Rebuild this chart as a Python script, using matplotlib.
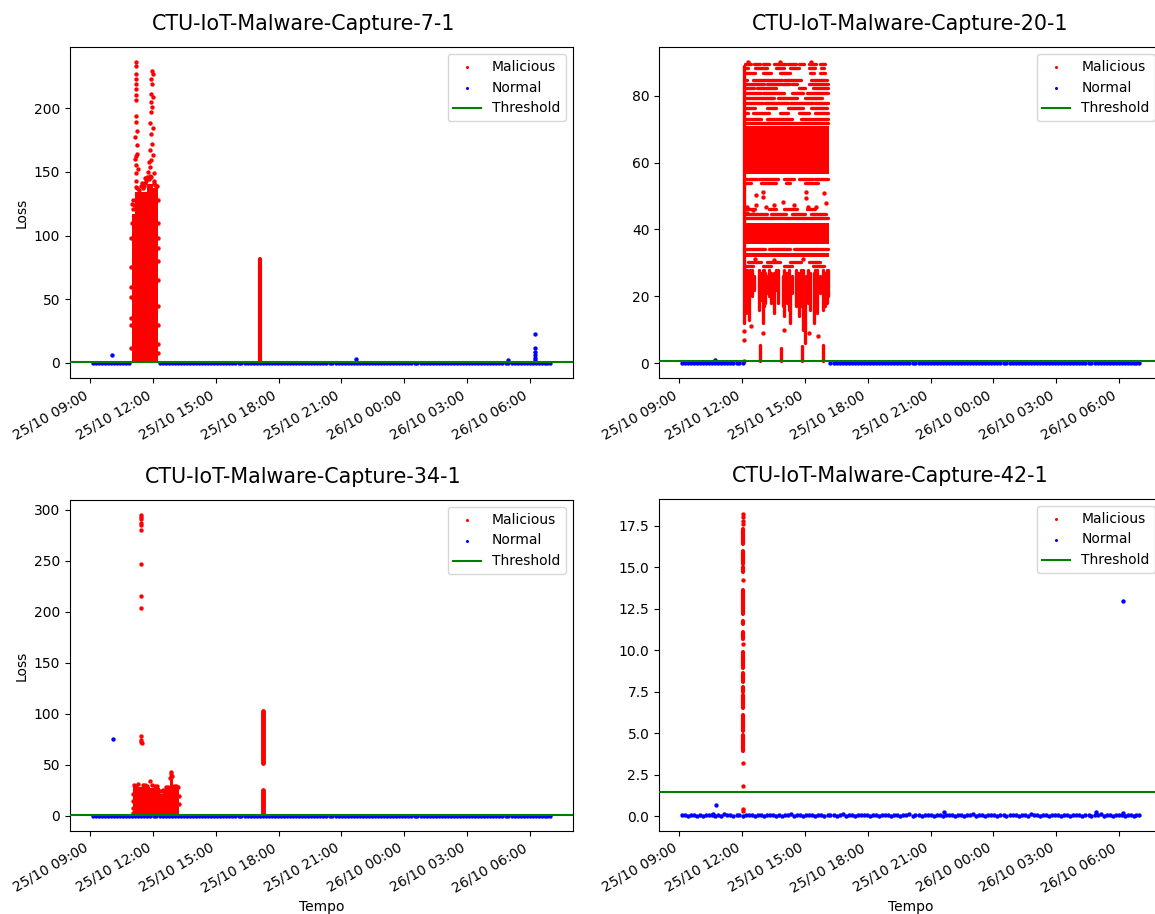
import numpy as np
import matplotlib
matplotlib.use("Agg")
import matplotlib.pyplot as plt
import matplotlib.dates as mdates

# time is given in hours from 25/10 00:00 (values > 24 are on 26/10)

# shared stream of normal traffic (blue band near 0)
base_t = [9.12, 9.26, 9.41, 9.56, 9.70, 9.84, 9.99, 10.13, 10.27, 10.42,
          10.57, 10.71, 10.86, 11.00, 11.14, 11.29, 11.44, 11.58, 11.73, 11.87,
          12.02, 12.16, 12.31, 12.45, 12.60, 12.74, 12.88, 13.03, 13.18, 13.32,
          13.47, 13.61, 13.76, 13.90, 14.05, 14.19, 14.34, 14.49, 14.63, 14.77,
          14.92, 15.06, 15.21, 15.35, 15.50, 15.64, 15.79, 15.93, 16.08, 16.22,
          16.37, 16.51, 16.66, 16.80, 16.95, 17.09, 17.24, 17.38, 17.53, 17.67,
          17.82, 17.96, 18.11, 18.25, 18.40, 18.54, 18.69, 18.83, 18.98, 19.12,
          19.27, 19.41, 19.56, 19.70, 19.85, 19.99, 20.14, 20.28, 20.43, 20.57,
          20.72, 20.86, 21.01, 21.15, 21.30, 21.44, 21.59, 21.73, 21.88, 22.02,
          22.17, 22.31, 22.46, 22.60, 22.75, 22.89, 23.04, 23.18, 23.33, 23.47,
          23.62, 23.76, 23.91, 24.05, 24.20, 24.34, 24.49, 24.63, 24.78, 24.92,
          25.07, 25.21, 25.36, 25.50, 25.65, 25.79, 25.94, 26.08, 26.23, 26.37,
          26.52, 26.66, 26.81, 26.95, 27.10, 27.24, 27.39, 27.53, 27.68, 27.82,
          27.97, 28.11, 28.26, 28.40, 28.55, 28.69, 28.84, 28.98, 29.13, 29.27,
          29.42, 29.56, 29.71, 29.85, 30.00, 30.14, 30.29, 30.43, 30.58, 30.72,
          30.84, 30.97]
base_loss = [0.04, 0.07, 0.02, 0.05, 0.09, 0.03, 0.06, 0.01, 0.08, 0.04,
             0.05, 0.02, 0.07, 0.03, 0.10, 0.04, 0.06, 0.02, 0.05, 0.08,
             0.03, 0.06, 0.04, 0.09, 0.02, 0.05, 0.07, 0.03, 0.06, 0.04,
             0.08, 0.02, 0.05, 0.03, 0.07, 0.04, 0.11, 0.02, 0.06, 0.05,
             0.03, 0.07, 0.04, 0.06, 0.02, 0.08, 0.05, 0.03, 0.09, 0.04,
             0.06, 0.03, 0.05, 0.10, 0.02, 0.04, 0.07, 0.03, 0.05, 0.08,
             0.04, 0.06, 0.02, 0.05, 0.09, 0.03, 0.07, 0.04, 0.06, 0.02,
             0.05, 0.08, 0.03, 0.06, 0.04, 0.12, 0.02, 0.05, 0.07, 0.03,
             0.06, 0.04, 0.09, 0.02, 0.05, 0.07, 0.03, 0.06, 0.04, 0.08,
             0.02, 0.05, 0.07, 0.03, 0.06, 0.04, 0.10, 0.02, 0.05, 0.07,
             0.03, 0.06, 0.04, 0.08, 0.02, 0.05, 0.07, 0.03, 0.09, 0.04,
             0.06, 0.02, 0.05, 0.07, 0.03, 0.11, 0.04, 0.06, 0.02, 0.05,
             0.08, 0.03, 0.06, 0.04, 0.07, 0.02, 0.05, 0.09, 0.03, 0.06,
             0.04, 0.07, 0.02, 0.05, 0.08, 0.03, 0.06, 0.04, 0.10, 0.02,
             0.05, 0.07, 0.03, 0.06, 0.04, 0.08, 0.02, 0.05, 0.07, 0.03,
             0.06, 0.04]

# ---------------- CTU-IoT-Malware-Capture-7-1 ----------------
c7_threshold = 0.9
c7_gap = (10.97, 12.21)
c7_mal_t = [11.17, 11.17, 11.18, 11.17, 11.18, 11.17, 11.19, 11.17, 11.20, 11.16,
            11.21, 11.15, 11.22, 11.18, 11.16, 11.20, 11.17, 11.24, 11.12, 11.26,
            11.93, 11.98, 11.90, 11.96, 11.92, 11.99, 11.88, 11.95, 11.91, 11.86,
            11.97, 11.89, 11.94, 11.87, 11.98, 11.92, 11.85, 12.02, 11.80, 12.05,
            11.83, 11.76, 11.79, 11.45, 11.55, 11.62, 10.95, 10.96, 12.22, 12.23,
            12.22, 11.00, 11.05,
            10.94, 10.95, 10.94, 10.96, 10.95, 10.97, 11.02, 11.08,
            11.16, 11.25, 11.33, 11.40, 11.52, 11.60, 11.66, 11.72, 11.78, 11.85,
            11.92, 12.04, 12.10, 12.17,
            12.23, 12.24, 12.22, 12.24, 12.23, 12.24, 12.23]
c7_mal_loss = [236, 233, 227, 223, 219, 215, 210, 206, 194, 189,
               182, 177, 164, 162, 155, 149, 143, 171, 160, 152,
               229, 227, 223, 219, 211, 209, 205, 201, 197, 188,
               184, 180, 172, 167, 163, 159, 154, 149, 145, 143,
               138, 150, 158, 141, 139, 145, 60, 30, 90, 45,
               15, 125, 128,
               12, 35, 52, 75, 98, 110, 121, 124,
               138, 137, 136, 139, 137, 141, 143, 146, 144, 147,
               146, 141, 140, 139,
               128, 110, 98, 80, 65, 30, 8]
c7_dense_t0 = [10.97, 11.13, 11.69, 12.00]
c7_dense_t1 = [11.13, 11.69, 12.00, 12.21]
c7_dense_lo = [0.3, 0.3, 0.3, 0.3]
c7_dense_hi = [117, 134, 140.5, 137]
c7_col_t = [17.13]
c7_col_lo = [0.5]
c7_col_hi = [81.5]
c7_norm_t = [10.02, 21.67, 28.96, 30.23, 30.23, 30.23, 30.23, 30.23, 30.23]
c7_norm_loss = [6.6, 2.9, 2.5, 23.0, 11.8, 8.6, 6.0, 4.3, 2.7]

# ---------------- CTU-IoT-Malware-Capture-20-1 ----------------
c20_threshold = 0.5
c20_gap = (12.05, 16.20)
c20_mal_t = [12.22, 12.22, 12.50, 12.66, 12.98, 12.98, 12.66, 13.14, 13.54, 13.93,
             14.49, 15.05, 15.05, 15.13, 15.53, 15.89, 16.00, 12.10, 12.10, 12.11,
             12.40, 13.00, 14.00, 15.20, 15.60, 12.30, 13.80, 15.30, 14.90, 13.50,
             12.60]
c20_mal_loss = [46.8, 44.8, 45.8, 50.3, 51.3, 49.8, 47.3, 46.8, 47.3, 48.3,
                47.3, 51.3, 49.3, 46.8, 46.8, 50.8, 47.8, 6.8, 9.5, 0.6,
                11.0, 9.0, 10.0, 9.0, 8.0, 90.0, 90.1, 90.0, 31.0, 30.8,
                31.2]
c20_dense_t0 = [12.07, 12.07, 12.08]
c20_dense_t1 = [16.16, 16.16, 16.14]
c20_dense_lo = [56.5, 31.6, 35.5]
c20_dense_hi = [71.0, 33.0, 42.0]
c20_row_loss = [89.5] * 8 + [88.3] * 6 + [86.8] * 5 + [84.8] * 4 + [83.5] * 4 + \
               [82.3] * 4 + [80.8] * 4 + [79.5] * 3 + [78.0] * 4 + [76.3] * 4 + \
               [74.8] * 5 + [73.0] * 3 + [71.8] + [55.2] * 5 + [53.8] * 4 + \
               [46.0] * 4 + [44.5] * 4 + [43.3] + [34.0] * 3 + [30.2] * 4 + [29.0] * 4
c20_row_t0 = [12.12, 12.55, 13.00, 13.50, 14.20, 14.70, 15.20, 15.70,
              12.10, 12.60, 13.60, 14.30, 15.20, 15.75,
              12.15, 13.00, 13.80, 15.25, 15.70,
              12.10, 12.50, 14.00, 15.30,
              12.15, 13.20, 14.40, 15.20,
              12.10, 12.70, 14.70, 15.40,
              12.12, 13.00, 14.40, 15.10,
              12.20, 13.70, 15.00,
              12.10, 13.10, 14.30, 15.50,
              12.15, 13.20, 14.20, 15.30,
              12.10, 12.50, 13.80, 14.70, 15.50,
              12.12, 13.20, 14.80,
              12.10,
              12.10, 12.80, 14.00, 14.70, 15.50,
              12.10, 12.90, 14.10, 15.00,
              12.15, 13.30, 14.00, 15.10,
              12.10, 13.40, 14.40, 15.30,
              12.10,
              12.10, 13.30, 14.50,
              12.30, 13.20, 14.30, 15.20,
              12.15, 13.00, 14.00, 15.40]
c20_row_t1 = [12.40, 12.85, 13.30, 14.10, 14.55, 14.95, 15.55, 15.95,
              12.30, 13.20, 14.00, 14.70, 15.50, 15.90,
              12.60, 13.40, 14.30, 15.45, 15.95,
              12.25, 13.90, 14.80, 16.05,
              13.05, 14.30, 14.60, 16.10,
              12.55, 13.60, 15.00, 16.10,
              12.90, 14.00, 14.90, 16.10,
              13.50, 14.60, 15.80,
              13.00, 14.20, 15.40, 16.10,
              12.60, 13.60, 14.90, 16.05,
              12.30, 13.30, 14.20, 15.20, 16.10,
              12.90, 14.40, 16.12,
              16.12,
              12.70, 13.70, 14.50, 15.40, 16.10,
              12.40, 13.60, 14.30, 15.60,
              12.60, 13.60, 14.60, 15.50,
              13.20, 14.10, 15.00, 16.00,
              16.10,
              13.10, 14.30, 16.10,
              12.90, 13.80, 14.80, 15.70,
              12.50, 13.40, 14.40, 15.90]
c20_col_t = [12.08, 12.16, 12.24, 12.33, 12.45, 12.82, 12.98, 13.11, 13.27, 13.54,
             13.70, 14.02, 14.14, 14.29, 14.57, 14.73, 14.89, 15.00, 15.13, 15.41,
             15.56, 15.87, 16.03, 12.86, 13.86, 14.84, 15.84,
             12.20, 12.28, 12.38, 12.55, 12.90, 13.05, 13.18, 13.40, 13.62, 13.95,
             14.08, 14.22, 14.40, 14.65, 14.80, 15.07, 15.25, 15.48, 15.70, 15.95,
             16.10]
c20_col_lo = [12, 15, 18, 13, 20, 16, 12, 18, 20, 15,
              18, 14, 18, 12, 17, 14, 10, 6, 18, 12,
              15, 16, 18, 0.5, 0.5, 0.5, 0.5,
              19, 16, 21, 22, 19, 17, 21, 18, 22, 17,
              20, 16, 21, 19, 17, 20, 16, 19, 21, 17,
              20]
c20_col_hi = [89, 28, 28, 27, 28, 28, 28, 27, 28, 27,
              28, 28, 27, 25, 28, 27, 28, 22, 28, 27,
              28, 28, 28, 5.5, 4.5, 5.0, 5.5,
              27, 26, 28, 26, 27, 28, 26, 27, 28, 26,
              27, 28, 26, 27, 28, 26, 27, 28, 26, 27,
              28]
c20_norm_t = [10.72, 28.96]
c20_norm_loss = [0.9, 0.4]

# ---------------- CTU-IoT-Malware-Capture-34-1 ----------------
c34_threshold = 0.5
c34_mal_t = [11.42, 11.42, 11.43, 11.42, 11.42, 11.43, 11.42, 11.42, 11.42, 11.42,
             11.42, 11.43, 11.46, 11.85, 12.86, 12.84, 12.88, 11.02, 11.03, 13.25,
             13.24, 12.40, 11.60, 12.10,
             11.10, 11.20, 11.30, 11.50, 11.70, 11.95, 12.20, 12.35, 12.45, 12.60,
             12.70, 13.00, 13.10, 13.20, 12.87, 12.83, 11.03, 11.04]
c34_mal_loss = [294.8, 293.0, 291.0, 286.6, 285.0, 280.5, 247.0, 216.0, 204.0, 78.5,
                74.0, 72.6, 71.6, 34.0, 43.0, 41.0, 39.5, 3.0, 8.0, 12.0,
                20.0, 24.0, 30.0, 29.5,
                30.0, 29.5, 31.0, 30.0, 29.8, 30.5, 29.5, 24.0, 25.0, 28.0,
                28.5, 29.5, 29.0, 28.5, 38.0, 37.5, 15.0, 22.0]
c34_dense_t0 = [11.05, 11.85, 12.32, 12.48, 12.80, 12.96]
c34_dense_t1 = [11.85, 12.32, 12.48, 12.80, 12.96, 13.23]
c34_dense_lo = [0.2, 0.2, 0.2, 0.2, 0.2, 0.2]
c34_dense_hi = [28.0, 27.5, 22.0, 26.0, 36.0, 27.0]
c34_col_t = [17.26, 17.26]
c34_col_lo = [52.0, 0.5]
c34_col_hi = [103.0, 25.5]
c34_norm_t = [10.06]
c34_norm_loss = [75.5]

# ---------------- CTU-IoT-Malware-Capture-42-1 ----------------
c42_threshold = 1.46
c42_mal_t = [12.04] * 10
c42_mal_loss = [18.2, 18.0, 17.8, 17.6, 14.2, 10.4, 3.2, 1.8, 0.44, 0.30]
c42_col_t = [12.04] * 12
c42_col_lo = [16.4, 15.2, 14.7, 12.2, 11.55, 10.7, 8.9, 8.1, 7.5, 6.5, 5.1, 3.9]
c42_col_hi = [17.3, 16.0, 15.0, 13.6, 11.75, 11.1, 9.9, 8.6, 7.8, 7.3, 6.1, 4.9]
c42_norm_t = [10.75, 30.20, 21.66, 28.90, 30.20, 10.60]
c42_norm_loss = [0.68, 12.96, 0.25, 0.25, 0.20, 0.15]

DAY0 = mdates.date2num(np.datetime64("2019-10-25T00:00"))


def to_num(h):
    return DAY0 + np.asarray(h, dtype=float) / 24.0


panels = [
    dict(title="CTU-IoT-Malware-Capture-7-1", tx=0.464, thr=c7_threshold, gap=c7_gap,
         mal=(c7_mal_t, c7_mal_loss),
         dense=(c7_dense_t0, c7_dense_t1, c7_dense_lo, c7_dense_hi),
         cols=(c7_col_t, c7_col_lo, c7_col_hi), col_lw=3.0,
         norm=(c7_norm_t, c7_norm_loss)),
    dict(title="CTU-IoT-Malware-Capture-20-1", tx=0.499, thr=c20_threshold, gap=c20_gap,
         mal=(c20_mal_t, c20_mal_loss),
         dense=(c20_dense_t0, c20_dense_t1, c20_dense_lo, c20_dense_hi),
         rows=(c20_row_loss, c20_row_t0, c20_row_t1),
         cols=(c20_col_t, c20_col_lo, c20_col_hi), col_lw=2.4,
         norm=(c20_norm_t, c20_norm_loss)),
    dict(title="CTU-IoT-Malware-Capture-34-1", tx=0.464, thr=c34_threshold, gap=None,
         mal=(c34_mal_t, c34_mal_loss),
         dense=(c34_dense_t0, c34_dense_t1, c34_dense_lo, c34_dense_hi),
         cols=(c34_col_t, c34_col_lo, c34_col_hi), col_lw=3.5,
         norm=(c34_norm_t, c34_norm_loss)),
    dict(title="CTU-IoT-Malware-Capture-42-1", tx=0.459, thr=c42_threshold, gap=None,
         mal=(c42_mal_t, c42_mal_loss),
         cols=(c42_col_t, c42_col_lo, c42_col_hi), col_lw=3.0,
         norm=(c42_norm_t, c42_norm_loss)),
]

fig = plt.figure(figsize=(11.55, 9.14), dpi=100)
rects = [[0.0606, 0.5864, 0.4355, 0.3621],
         [0.5706, 0.5864, 0.4355, 0.3621],
         [0.0606, 0.0908, 0.4355, 0.3621],
         [0.5706, 0.0908, 0.4355, 0.3632]]

for i, (p, r) in enumerate(zip(panels, rects)):
    ax = fig.add_axes(r)

    # dense malicious areas
    if "dense" in p:
        for t0, t1, lo, hi in zip(*p["dense"]):
            ax.fill_between(to_num([t0, t1]), [lo, lo], [hi, hi],
                            color="red", linewidth=0, zorder=1)
    if "rows" in p:
        rl, r0, r1 = p["rows"]
        ax.hlines(rl, to_num(r0), to_num(r1), colors="red", linewidth=2.4,
                  capstyle="round", zorder=1.5)
    if "cols" in p:
        ct, clo, chi = p["cols"]
        ax.vlines(to_num(ct), clo, chi, colors="red", linewidth=p["col_lw"],
                  capstyle="round", zorder=1.5)

    mt, ml = p["mal"]
    ax.scatter(to_num(mt), ml, s=10, c="red", linewidths=0, label="Malicious", zorder=2)

    bt = np.array(base_t)
    bl = np.array(base_loss)
    keep = np.ones(len(bt), dtype=bool)
    if p["gap"] is not None:
        keep = (bt < p["gap"][0]) | (bt > p["gap"][1])
    nt = np.concatenate([bt[keep], p["norm"][0]])
    nl = np.concatenate([bl[keep], p["norm"][1]])
    ax.scatter(to_num(nt), nl, s=10, c="blue", linewidths=0, label="Normal", zorder=2.5)

    ax.axhline(p["thr"], color="green", linewidth=1.5, label="Threshold", zorder=3)

    ax.xaxis.set_major_locator(mdates.HourLocator(byhour=range(0, 24, 3)))
    ax.xaxis.set_major_formatter(mdates.DateFormatter("%d/%m %H:%M"))
    ax.tick_params(axis="x", labelrotation=30)
    plt.setp(ax.get_xticklabels(), ha="right")

    ax.set_title(p["title"], fontsize=14.85, pad=12, x=p["tx"])
    ax.legend(loc="upper right", markerscale=0.7)
    if i % 2 == 0:
        ax.set_ylabel("Loss")
    if i >= 2:
        ax.set_xlabel("Tempo")

fig.savefig("out.png", dpi=100)
